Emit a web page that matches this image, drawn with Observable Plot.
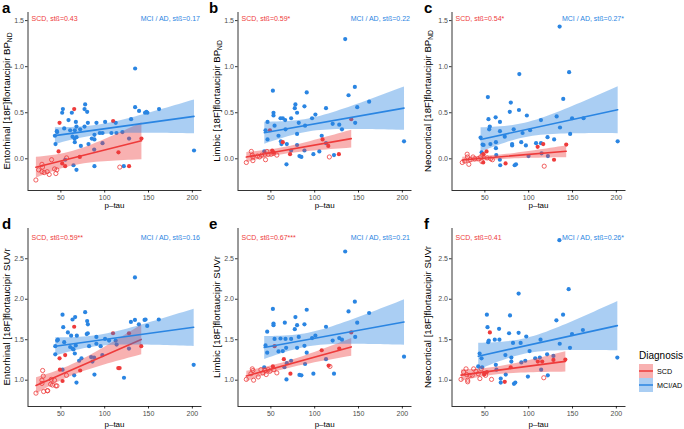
<!DOCTYPE html>
<html><head><meta charset="utf-8">
<script src="https://cdn.jsdelivr.net/npm/d3@7"></script>
<script src="https://cdn.jsdelivr.net/npm/@observablehq/plot@0.6"></script>
<style>
body{margin:0;background:#fff;font-family:"Liberation Sans",Arial,Helvetica,sans-serif}
#wrap{position:relative;width:684px;height:429px;overflow:hidden;background:#fff}
#wrap svg{position:absolute}
.abs{position:absolute;white-space:nowrap;line-height:1}
.c{transform:translate(-50%,-50%)}
.rot{transform:translate(-50%,-50%) rotate(-90deg)}
.let{font-weight:bold;font-size:15px;color:#000}
.ylab{font-size:9.6px;color:#000}
.ylab sub{font-size:70%;vertical-align:-0.3em;line-height:0}
.xlab{font-size:8px;color:#000}
</style></head><body><div id="wrap"></div>
<script>
// ---------- data: [p-tau, value] ----------
const aMCI=[[134.7,0.98],[201.9,0.09],[52.3,0.54],[51.5,0.50],[77.7,0.59],[77.0,0.54],[80.0,0.51],[62.5,0.50],[58.7,0.42],[67.1,0.40],[80.8,0.39],[90.6,0.39],[100.5,0.40],[112.6,0.39],[130.1,0.43],[134.7,0.56],[139.2,0.52],[146.0,0.50],[147.6,0.51],[148.7,0.50],[162.0,0.54],[45.4,0.30],[45.8,0.29],[43.2,0.25],[43.9,0.16],[53.8,0.33],[60.6,0.31],[65.9,0.31],[67.8,0.35],[72.0,0.32],[77.0,0.35],[63.3,0.24],[65.6,0.22],[67.8,0.235],[65.9,0.18],[72.8,0.14],[81.5,0.16],[85.3,0.22],[88.3,0.21],[88.3,0.26],[94.4,0.28],[97.5,0.28],[107.7,0.28],[113.4,0.28],[120.2,0.29],[127.8,0.22],[97.5,0.17],[88.0,0.10],[64.4,-0.07],[67.8,-0.12],[88.3,-0.08],[121.8,-0.08],[54.9,-0.01]];
const aSCDfilled=[[65.2,0.54],[48.5,0.39],[109.6,0.41],[141.9,0.22],[115.7,0.07],[127.8,-0.08],[54.9,-0.08],[51.5,-0.05],[47.4,0.08],[71.6,0.02]];
const aSCDopen=[[21.5,-0.23],[28.4,-0.06],[29.1,-0.09],[28.4,-0.14],[34.4,-0.14],[36.7,-0.17],[39.4,-0.01],[42.8,-0.11],[45.4,-0.12],[44.3,-0.16],[56.5,0.01],[117.2,-0.09],[24.6,-0.12],[31.0,-0.15]];

const bMCI=[[134.8,1.30],[145.8,0.78],[52.3,0.74],[90.9,0.72],[138.6,0.69],[162.1,0.62],[148.5,0.56],[78.0,0.59],[77.3,0.55],[88.3,0.57],[112.9,0.55],[53.0,0.50],[53.0,0.47],[79.9,0.50],[100.8,0.48],[97.0,0.44],[61.0,0.44],[63.6,0.44],[66.3,0.42],[73.1,0.44],[81.8,0.39],[46.2,0.40],[54.2,0.36],[89.0,0.36],[120.5,0.38],[128.0,0.37],[131.1,0.32],[146.2,0.39],[43.9,0.31],[46.2,0.21],[66.7,0.32],[58.7,0.25],[61.4,0.19],[62.1,0.16],[68.2,0.16],[79.9,0.27],[79.9,0.15],[88.3,0.09],[105.3,0.08],[108.0,0.25],[112.9,0.17],[73.1,0.09],[82.6,0.03],[84.8,0.02],[98.5,0.05],[122.0,0.04],[67.8,-0.06],[201.9,0.19],[42.5,0.08]];
const bSCDfilled=[[48.9,0.31],[63.6,0.18],[71.9,0.05],[109,0.21],[115.5,0.14],[127.6,0.05],[53,0.07],[141.7,0.43],[51.5,0.09]];
const bSCDopen=[[22,-0.04],[27.7,0.08],[28.8,0.04],[29.5,0.02],[29.5,-0.02],[34.8,0.03],[37.1,0.02],[39.4,0.04],[43.2,0.05],[43.9,-0.01],[45.5,0.08],[47,0.05],[50.4,0.05],[53,0.06],[56.8,0.04],[116.7,0.02]];

const cMCI=[[135.3,1.435],[146.1,0.94],[89.3,0.92],[139.4,0.65],[53.4,0.67],[79.6,0.61],[78.4,0.51],[88.9,0.53],[97.9,0.47],[54.1,0.43],[54.9,0.32],[55.6,0.35],[62.3,0.45],[67.2,0.40],[114,0.42],[131.9,0.46],[135.7,0.34],[149.5,0.44],[162.6,0.44],[147.3,0.27],[67.2,0.30],[82.9,0.32],[45.1,0.23],[47.4,0.155],[48.5,0.15],[56.3,0.16],[62.6,0.18],[72.7,0.24],[91.5,0.18],[93,0.28],[101.6,0.31],[108.4,0.17],[114,0.17],[121.5,0.235],[129,0.21],[81.1,0.16],[81.1,0.145],[96.8,0.145],[99.8,0.03],[121.9,0.03],[62.6,0.115],[63,0.04],[67.1,-0.01],[67.5,-0.07],[84,-0.07],[85.5,-0.06],[201.5,0.19],[46.3,0.07],[114.7,0.06]];
const cSCDfilled=[[116.6,0.16],[110.2,0.13],[142.8,0.155],[128.9,-0.01],[73.6,-0.05],[48.5,0.05],[51.9,0.08],[48.1,-0.04]];
const cSCDopen=[[24.2,-0.04],[29.8,0.05],[30.2,0.02],[33.2,-0.01],[36.5,0.02],[38.4,0.0],[42.5,0.0],[45.1,0.02],[47.4,0.04],[46.6,-0.03],[52.6,0.01],[56.7,0.0],[58.6,-0.01],[117.7,-0.08],[27.2,-0.025],[31.7,-0.06]];

const dMCI=[[134.5,2.27],[201.5,1.19],[52.7,1.655],[51.9,1.81],[66.3,1.78],[63.3,1.75],[77.7,1.84],[80.0,1.73],[80.8,1.69],[79.5,1.57],[58,1.59],[61.7,1.55],[68.2,1.55],[46.6,1.50],[45.8,1.49],[53.8,1.47],[80.7,1.58],[90.5,1.535],[100.4,1.51],[105,1.49],[112.5,1.49],[129.9,1.72],[134.5,1.745],[139,1.69],[145.5,1.745],[146.6,1.75],[148.5,1.67],[161.7,1.75],[43.6,1.42],[43.6,1.32],[60.6,1.41],[63.3,1.39],[64.4,1.38],[67,1.43],[82.2,1.42],[90.5,1.45],[95.4,1.42],[97.3,1.31],[87.9,1.28],[84.5,1.285],[113.6,1.44],[127.7,1.39],[65.2,1.06],[67.8,0.97],[88.3,1.07],[122,1.03],[51.9,1.13],[65.9,1.33],[70.8,1.24],[73.5,1.27],[86,1.23]];
const dSCDfilled=[[65.2,1.66],[48.5,1.27],[54.9,1.31],[109.5,1.58],[127.7,1.58],[141.7,1.42],[115.5,1.15],[117,1.15],[51.9,0.99],[48.9,1.13],[72,1.12]];
const dSCDopen=[[21.6,0.84],[29.2,1.12],[29.9,1.05],[28.4,1.00],[28.4,0.96],[34.5,0.87],[30.3,0.86],[38.3,0.95],[40.5,0.94],[42.8,1.0],[44.3,0.93],[45.5,0.93],[56.4,1.06],[39,1.01],[35,0.87]];

const eMCI=[[134.8,2.59],[201.9,1.29],[145.8,1.97],[52.3,1.88],[90.9,1.87],[138.6,1.85],[162.1,1.83],[148.5,1.71],[78.0,1.78],[79.9,1.68],[77.3,1.63],[88.3,1.69],[112.9,1.66],[53,1.70],[53,1.68],[65.9,1.71],[45.8,1.60],[54.2,1.51],[61,1.515],[66.7,1.51],[73.1,1.51],[81.8,1.535],[97,1.52],[100.8,1.55],[120.5,1.49],[128,1.52],[131.1,1.50],[146.2,1.535],[43.9,1.43],[45.8,1.34],[58.7,1.355],[63.6,1.36],[67.4,1.40],[79.9,1.40],[88.3,1.425],[90.9,1.34],[89,1.20],[112.9,1.26],[73.1,1.24],[82.6,1.065],[84.8,1.06],[98.5,1.08],[122,1.08],[67.8,1.01],[42.4,1.16],[65.5,1.16],[68.2,1.21]];
const eSCDfilled=[[64.8,1.26],[72.3,1.08],[108,1.37],[115.9,1.18],[128,1.39],[141.7,1.59],[54.2,1.42],[52.3,1.17]];
const eSCDopen=[[22,1.01],[28.8,1.14],[29.5,1.12],[27.3,1.08],[30.3,1.00],[35.6,1.04],[38.6,1.13],[40.9,1.09],[43.2,1.12],[44.7,1.07],[47,1.13],[48.9,1.11],[53.4,1.13],[56.8,1.09],[117.4,1.17]];

const fMCI=[[135,2.73],[145.6,2.125],[88.5,2.07],[139.2,1.81],[52.3,1.81],[78.7,1.80],[53,1.655],[66.2,1.635],[61.3,1.50],[66.6,1.50],[53.8,1.47],[54.5,1.49],[77.6,1.58],[88.5,1.585],[97.2,1.54],[113.5,1.50],[131.6,1.74],[135.4,1.45],[149.4,1.57],[161.8,1.62],[147.1,1.40],[44,1.33],[46.2,1.27],[46.9,1.16],[62.5,1.19],[73.4,1.31],[82.1,1.46],[90.8,1.46],[80.2,1.28],[80.2,1.23],[91.6,1.22],[96.1,1.24],[101,1.36],[107.4,1.27],[121,1.32],[128.2,1.30],[114.2,1.13],[121.8,1.06],[99.1,1.045],[68.1,1.02],[68.1,0.97],[83.2,0.955],[84.7,0.97],[63.2,1.13],[201.1,1.28],[42.4,1.17],[73.8,1.07],[112.7,1.28]];
const fSCDfilled=[[55.7,1.59],[115.4,1.23],[110.4,1.23],[141.8,1.255],[128.2,1.25],[72.7,0.98],[49.2,1.07],[49.2,1.09],[79.5,1.16],[52.3,1.10]];
const fSCDopen=[[22.8,1.01],[28.5,1.14],[29.2,1.07],[30.4,1.00],[30.4,0.98],[33,1.06],[35.6,1.06],[37.2,1.14],[39.8,1.11],[42.4,1.08],[44.3,1.02],[45.8,1.14],[50.8,1.06],[57.6,1.01],[117.2,1.03],[25.8,1.10]];

const groups=["SCD","MCI/AD"];
const letters=["a","b","c","d","e","f"];
const regions=["Entorhinal","Limbic","Neocortical","Entorhinal","Limbic","Neocortical"];
const scdLabels=["SCD, stß=0.43","SCD, stß=0.59*","SCD, stß=0.54*","SCD, stß=0.59**","SCD, stß=0.67***","SCD, stß=0.41"];
const mciLabels=["MCI / AD, stß=0.17","MCI / AD, stß=0.22","MCI / AD, stß=0.27*","MCI / AD, stß=0.16","MCI / AD, stß=0.21","MCI / AD, stß=0.26*"];
const xTicks=[50,100,150,200];
const bpTicks=[0,0.5,1.0,1.5];
const suvrTicks=[1.0,1.5,2.0,2.5];
const xDomain=[12.5,211];
const bpDomain=[-0.344,1.588];
const suvrDomain=[0.675,2.874];
const xLabel="p–tau";

const MCI=[aMCI,bMCI,cMCI,dMCI,eMCI,fMCI];
const SCDF=[aSCDfilled,bSCDfilled,cSCDfilled,dSCDfilled,eSCDfilled,fSCDfilled];
const SCDO=[aSCDopen,bSCDopen,cSCDopen,dSCDopen,eSCDopen,fSCDopen];

// ---------- styling / layout ----------
const red="#EE3B3B", blue="#2A85E2";
const FONT='"Liberation Sans", Arial, Helvetica, sans-serif';
const frameLefts=[27.5,237.7,451.5], frameTops=[12,228], frameW=174, frameH=178;
const mL=27.5, mT=12, mB=14, mR=6;
const wrap=document.getElementById("wrap");

const rows=(arr,g)=>arr.map(([x,y])=>({x,y,g}));

function addHTML(html){wrap.insertAdjacentHTML("beforeend",html);}

for(let i=0;i<6;i++){
  const row=i<3?0:1, col=i%3;
  const yDomain=row?suvrDomain:bpDomain, yTicks=row?suvrTicks:bpTicks;
  const scdF=rows(SCDF[i],"SCD"), scdO=rows(SCDO[i],"SCD"), mci=rows(MCI[i],"MCI/AD");
  const all=[...scdF,...scdO,...mci];
  const dyTxt=row?9:6;
  const p=Plot.plot({
    width:mL+frameW+mR, height:mT+frameH+mB,
    marginLeft:mL, marginRight:mR, marginTop:mT, marginBottom:mB,
    style:{background:"transparent",fontFamily:FONT,fontSize:"7px",color:"#4d4d4d",overflow:"visible"},
    x:{domain:xDomain}, y:{domain:yDomain},
    color:{domain:groups, range:[red,blue]},
    marks:[
      Plot.axisX({ticks:xTicks, tickSize:2.5, tickPadding:2, label:null, fontSize:7, stroke:"#333"}),
      Plot.axisY({ticks:yTicks, tickSize:2.5, tickPadding:1.5, label:null, fontSize:7, stroke:"#333", tickFormat:d3.format(".1f")}),
      Plot.ruleX([xDomain[0]],{stroke:"#000",strokeWidth:0.8}),
      Plot.ruleY([yDomain[0]],{stroke:"#000",strokeWidth:0.8}),
      Plot.dot(mci,{x:"x",y:"y",r:2.1,fill:blue,stroke:"none"}),
      Plot.dot(scdF,{x:"x",y:"y",r:2.1,fill:red,stroke:"none"}),
      Plot.dot(scdO,{x:"x",y:"y",r:2.1,fill:"none",stroke:red,strokeWidth:0.8}),
      Plot.linearRegressionY(all,{x:"x",y:"y",stroke:"g",fill:"g",fillOpacity:0.4,strokeWidth:1.6,ci:0.95}),
      Plot.text([scdLabels[i]],{text:d=>d,frameAnchor:"top-left",dx:3.5,dy:dyTxt,textAnchor:"start",lineAnchor:"middle",fill:red,fontSize:7}),
      Plot.text([mciLabels[i]],{text:d=>d,frameAnchor:"top-right",dx:-2,dy:dyTxt,textAnchor:"end",lineAnchor:"middle",fill:blue,fontSize:7})
    ]
  });
  p.style.left=(frameLefts[col]-mL)+"px";
  p.style.top=(frameTops[row]-mT)+"px";
  wrap.appendChild(p);

  const letterX=[2,209,424][col], letterTop=[0.3,215.6][row];
  addHTML(`<div class="abs let" style="left:${letterX}px;top:${letterTop}px">${letters[i]}</div>`);
  const ylx=[7,217,428][col], yly=frameTops[row]+frameH/2;
  const lab=row?`${regions[i]} [18F]flortaucipir SUVr`:`${regions[i]} [18F]flortaucipir BP<sub>ND</sub>`;
  addHTML(`<div class="abs rot ylab" style="left:${ylx}px;top:${yly}px">${lab}</div>`);
  const xlx=frameLefts[col]+frameW/2, xly=[206,425][row];
  addHTML(`<div class="abs c xlab" style="left:${xlx}px;top:${xly}px">${xLabel}</div>`);
}

// legend
function key(color){
  return `<svg width="14" height="14" style="position:absolute;left:0;top:0"><rect width="14" height="14" fill="${color}" fill-opacity="0.4"/><line x1="0" x2="14" y1="7" y2="7" stroke="${color}" stroke-width="1.5"/></svg>`;
}
addHTML(`<div class="abs" style="left:639px;top:351px;font-size:10px;color:#000">Diagnosis</div>`);
[[red,"SCD",364],[blue,"MCI/AD",378]].forEach(([c,t,y])=>{
  addHTML(`<div class="abs" style="left:639px;top:${y}px;width:14px;height:14px">${key(c)}</div>`);
  addHTML(`<div class="abs" style="left:657px;top:${y+3.5}px;font-size:7.2px;color:#000">${t}</div>`);
});
</script></body></html>
